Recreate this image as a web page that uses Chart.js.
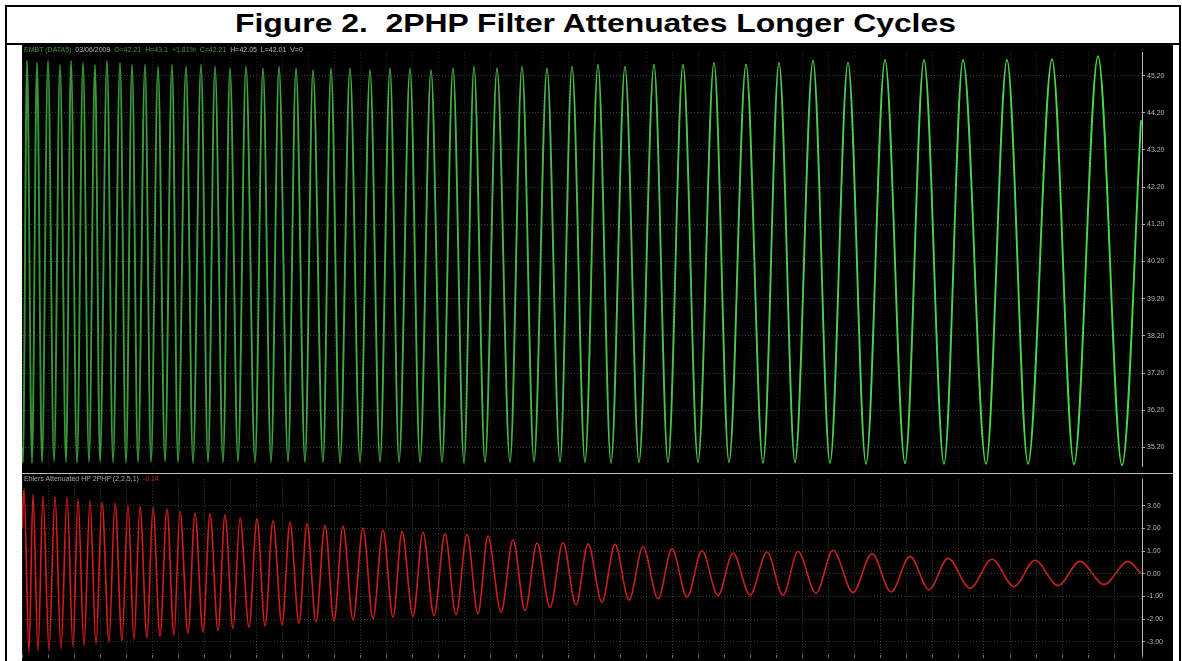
<!DOCTYPE html>
<html>
<head>
<meta charset="utf-8">
<script src="https://cdn.jsdelivr.net/npm/chart.js@4.4.1/dist/chart.umd.min.js"></script>
<style>
  html, body { margin:0; padding:0; background:#fff; width:1182px; height:661px; overflow:hidden; }
  #outer { position:absolute; left:5px; top:5px; width:1176px; height:720px; border:2px solid #000; box-sizing:border-box; }
  #titleSep { position:absolute; left:5px; top:43px; width:1176px; height:2px; background:#000; }
  #title { position:absolute; left:235px; top:11px; font-family:"Liberation Sans", Arial, sans-serif; font-weight:bold;
           font-size:25.5px; line-height:25.5px; white-space:pre; color:#000; transform:scaleX(1.25); transform-origin:0 0; }
  #chartBg { position:absolute; left:22px; top:45px; width:1151px; height:616px; background:#000; }
  #topWrap { position:absolute; left:22px; top:46px; width:1151px; height:427px; }
  #botWrap { position:absolute; left:22px; top:473px; width:1151px; height:188px; }
  #panelSep { position:absolute; left:22px; top:473px; width:1151px; height:1px; background:#bdbdbd; }
  .leg { position:absolute; font-family:"Liberation Sans", Arial, sans-serif; font-size:7px; line-height:8px; white-space:pre; }
</style>
</head>
<body>
<div id="outer"></div>
<div id="titleSep"></div>
<div id="title">Figure 2.  2PHP Filter Attenuates Longer Cycles</div>
<div id="chartBg"></div>
<div id="topWrap"><canvas id="topChart" width="1151" height="427"></canvas></div>
<div id="botWrap"><canvas id="botChart" width="1151" height="188"></canvas></div>
<div id="panelSep"></div>
<div class="leg" style="left:24px;top:46px;"><span style="color:#3f9a3f">EMBT (DATA5)</span>  <span style="color:#b8b8b8">03/06/2009</span>  <span style="color:#3f9a3f">O=42.21  H=43.1  +1.81%  C=42.21</span>  <span style="color:#b8b8b8">H=42.05  L=42.01  V=0</span></div>
<div class="leg" style="left:24px;top:475px;"><span style="color:#a8a8a8">Ehlers Attenuated HP 2PHP (2,2,5,1)</span>  <span style="color:#c02020">-0.14</span></div>

<script>
// ---------- data (x in bars) ----------
const topTicks = [35.2, 36.2, 37.2, 38.2, 39.2, 40.2, 41.2, 42.2, 43.2, 44.2, 45.2];
const bottomTicks = [-3, -2, -1, 0, 1, 2, 3];

// Top panel: price (green) turning points
const greenPeakBar = [5, 15, 26, 38, 49, 61, 73, 85, 98, 110, 123, 136, 150, 164, 179, 193, 208, 224, 241, 257,
  274, 291, 309, 328, 348, 368, 388, 409, 431, 452, 475, 500, 525, 550, 576, 603, 632, 661, 692, 724,
  757, 791, 826, 863, 902, 941, 985, 1030, 1076];
const greenPeakValue = [45.6, 45.55, 45.6, 45.5, 45.6, 45.55, 45.5, 45.6, 45.55, 45.5, 45.5, 45.45, 45.5, 45.45, 45.5, 45.45, 45.4, 45.45, 45.4, 45.45,
  45.4, 45.35, 45.4, 45.4, 45.35, 45.4, 45.4, 45.35, 45.4, 45.45, 45.4, 45.45, 45.4, 45.45, 45.5, 45.45, 45.5, 45.5, 45.55, 45.5,
  45.55, 45.6, 45.55, 45.62, 45.62, 45.62, 45.62, 45.64, 45.72];
const greenTroughBar = [1, 10, 20, 32, 44, 55, 67, 78, 91, 104, 116, 129, 143, 156, 171, 186, 201, 216, 233, 249,
  266, 283, 301, 318, 338, 358, 377, 398, 420, 442, 463, 488, 512, 538, 563, 589, 617, 646, 676, 707,
  741, 773, 808, 844, 883, 922, 964, 1006, 1052, 1100];
const greenTroughValue = [34.8, 34.78, 34.8, 34.82, 34.8, 34.78, 34.8, 34.82, 34.8, 34.78, 34.8, 34.8, 34.82, 34.8, 34.78, 34.8, 34.8, 34.82, 34.8, 34.8,
  34.82, 34.8, 34.8, 34.78, 34.8, 34.82, 34.8, 34.8, 34.8, 34.78, 34.8, 34.8, 34.82, 34.8, 34.8, 34.78, 34.8, 34.8, 34.8, 34.8,
  34.78, 34.8, 34.78, 34.76, 34.78, 34.76, 34.76, 34.76, 34.75, 34.72];
const greenEdgeBar = [0, 1119];
const greenEdgeValue = [35.2, 44.0];

// Bottom panel: 2PHP filter output (red) turning points
const redPeakBar = [2, 11, 21, 33, 45, 56, 68, 80, 93, 106, 118, 131, 145, 158, 173, 188, 203, 218, 235, 251,
  268, 285, 303, 321, 341, 361, 380, 401, 423, 445, 466, 491, 515, 541, 566, 593, 621, 650, 680, 711,
  745, 776, 811, 850, 888, 926, 970, 1013, 1058, 1106];
const redPeakValue = [3.74, 3.5, 3.42, 3.4, 3.38, 3.3, 3.23, 3.15, 3.12, 3.02, 2.96, 2.92, 2.85, 2.77, 2.68, 2.64, 2.6, 2.47, 2.42, 2.34,
  2.27, 2.21, 2.14, 2.1, 2.02, 1.94, 1.86, 1.83, 1.76, 1.74, 1.66, 1.5, 1.36, 1.38, 1.32, 1.3, 1.19, 1.1, 1.02, 0.92,
  0.96, 0.98, 1.04, 0.89, 0.77, 0.68, 0.64, 0.6, 0.55, 0.55];
const redTroughBar = [7, 16, 27, 39, 51, 62, 74, 87, 100, 112, 125, 138, 152, 166, 181, 196, 211, 227, 243, 260,
  277, 294, 312, 331, 351, 371, 391, 412, 434, 456, 479, 503, 528, 554, 580, 607, 636, 665, 696, 728,
  761, 794, 831, 869, 907, 948, 992, 1036, 1082];
const redTroughValue = [-3.45, -3.4, -3.35, -3.3, -3.22, -3.15, -3.1, -3.0, -2.95, -2.9, -2.82, -2.75, -2.7, -2.62, -2.55, -2.5, -2.42, -2.36, -2.3, -2.24,
  -2.18, -2.12, -2.08, -2.03, -1.98, -1.92, -1.88, -1.84, -1.8, -1.76, -1.7, -1.62, -1.48, -1.38, -1.25, -1.16, -1.1, -1.02, -0.96, -0.94,
  -0.94, -0.86, -0.82, -0.8, -0.7, -0.64, -0.56, -0.52, -0.47];
const redEdgeBar = [0, 1119];
const redEdgeValue = [2.0, 0.02];

// ---------- build ----------
function turningPoints(pb, pv, tb, tv, eb, ev) {
  const pts = [];
  pb.forEach((b, i) => pts.push({ x: b, y: pv[i] }));
  tb.forEach((b, i) => pts.push({ x: b, y: tv[i] }));
  eb.forEach((b, i) => pts.push({ x: b, y: ev[i] }));
  return pts.sort((a, b) => a.x - b.x);
}

function hGradient(stops) {
  return (ctx) => {
    const area = ctx.chart.chartArea;
    if (!area) return stops[stops.length - 1][1];
    const g = ctx.chart.ctx.createLinearGradient(area.left, 0, area.right, 0);
    stops.forEach(s => g.addColorStop(s[0], s[1]));
    return g;
  };
}

function options(yMin, yMax, ticks, xAxisHeight, xGridColor) {
  return {
    responsive: false,
    animation: false,
    events: [],
    layout: { padding: 0 },
    plugins: { legend: { display: false }, tooltip: { enabled: false }, title: { display: false } },
    scales: {
      x: {
        type: 'linear', min: 0, max: 1120, position: 'bottom',
        ticks: { display: false, stepSize: 26 },
        grid: { color: xGridColor, lineWidth: 1, drawTicks: xAxisHeight > 0, tickLength: 3, tickColor: '#7a7a7a', tickBorderDash: [] },
        border: { display: false, dash: [1, 2] },
        afterFit: s => { s.height = xAxisHeight; }
      },
      y: {
        position: 'right', min: yMin, max: yMax,
        afterBuildTicks: s => { s.ticks = ticks.map(v => ({ value: v })); },
        ticks: { color: '#b4b4b4', padding: 2, font: { family: 'Liberation Sans', size: 7 }, callback: v => Number(v).toFixed(2) },
        grid: { color: 'rgba(95,95,95,0.6)', lineWidth: 1, drawTicks: true, tickLength: 3, tickColor: '#a8a8a8', tickBorderDash: [] },
        border: { display: true, color: '#b8b8b8', width: 1, dash: [1, 2] },
        afterFit: s => { s.width = 31; }
      }
    }
  };
}

new Chart(document.getElementById('topChart'), {
  type: 'line',
  data: {
    datasets: [{
      data: turningPoints(greenPeakBar, greenPeakValue, greenTroughBar, greenTroughValue, greenEdgeBar, greenEdgeValue),
      borderColor: hGradient([[0, 'rgb(55,150,55)'], [0.4, 'rgb(70,180,70)'], [0.7, 'rgb(80,205,80)'], [1, 'rgb(70,220,70)']]),
      borderWidth: 1.9, pointRadius: 0, cubicInterpolationMode: 'monotone', fill: false
    }]
  },
  options: options(34.68, 45.83, topTicks, 0, 'rgba(110,45,70,0.55)')
});

new Chart(document.getElementById('botChart'), {
  type: 'line',
  data: {
    datasets: [{
      data: turningPoints(redPeakBar, redPeakValue, redTroughBar, redTroughValue, redEdgeBar, redEdgeValue),
      borderColor: hGradient([[0, 'rgb(220,25,25)'], [0.4, 'rgb(200,30,30)'], [1, 'rgb(185,35,35)']]),
      borderWidth: 1.6, pointRadius: 0, cubicInterpolationMode: 'monotone', fill: false
    }]
  },
  options: options(-3.57, 4.17, bottomTicks, 6, 'rgba(95,95,95,0.6)')
});
</script>
</body>
</html>
